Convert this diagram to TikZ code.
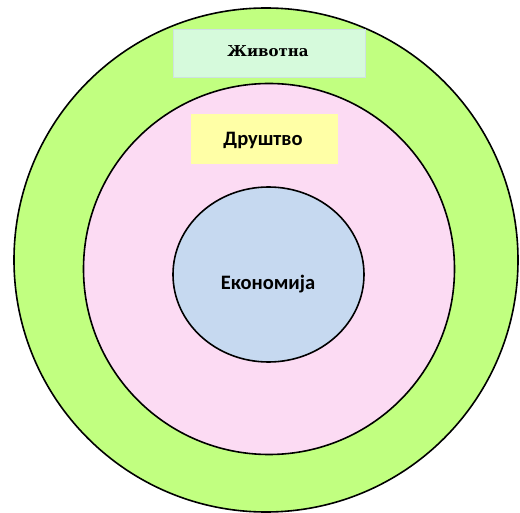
\documentclass[tikz,border=0pt]{standalone}
\usepackage{fontspec}
\setmainfont{Carlito}
\newfontfamily\serifheavy{DejaVu Serif}
\usetikzlibrary{shapes.geometric}
\definecolor{outergreen}{RGB}{193,255,128}
\definecolor{midpink}{RGB}{252,219,243}
\definecolor{innerblue}{RGB}{198,217,240}
\definecolor{boxgreen}{RGB}{214,250,220}
\definecolor{boxyellow}{RGB}{255,255,166}
\definecolor{boxedge}{RGB}{205,225,225}
\tikzset{
  ring/.style={circle, draw=black, line width=1.6pt, inner sep=0pt},
  labelbox/.style={rectangle, inner sep=0pt, font=\bfseries},
}
\begin{document}
\begin{tikzpicture}[x=1pt,y=-1pt]
\useasboundingbox (0,0) rectangle (520,513);
\node[ring, fill=outergreen, minimum size=504pt] (outer) at (266,260) {};
\node[ring, fill=midpink, minimum size=371pt] (middle) at (269,269) {};
\node[ellipse, draw=black, line width=1.6pt, inner sep=0pt, fill=innerblue,
      minimum width=191pt, minimum height=175pt] (inner) at (268.5,274.5) {};
\node[font=\bfseries\fontsize{20.5}{24}\selectfont] (ekon) at (268,284) {Економија};
\node[labelbox, fill=boxgreen, draw=boxedge, line width=0.4pt,
      minimum width=192pt, minimum height=48pt] (animbox) at (269,53) {};
\node[font=\serifheavy\bfseries\fontsize{15}{18}\selectfont] (anim) at (268,51) {Животна};
\node[labelbox, fill=boxyellow, minimum width=147pt, minimum height=50pt] (socbox) at (264.5,139) {};
\node[font=\bfseries\fontsize{20.5}{24}\selectfont] (soc) at (263,140) {Друштво};
\end{tikzpicture}
\end{document}
